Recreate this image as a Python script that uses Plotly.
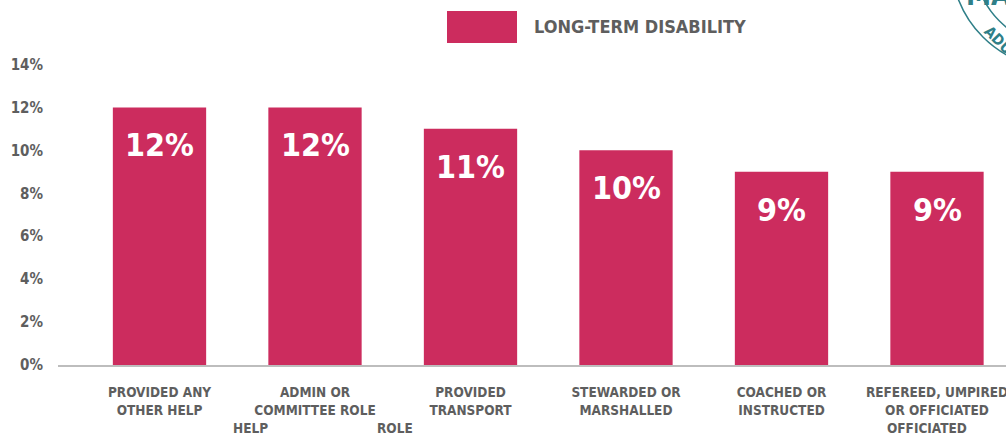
import plotly.graph_objects as go

# Share of volunteers with a long-term disability, by volunteering role
categories = [
    "PROVIDED ANY<br>OTHER HELP",
    "ADMIN OR<br>COMMITTEE ROLE",
    "PROVIDED<br>TRANSPORT",
    "STEWARDED OR<br>MARSHALLED",
    "COACHED OR<br>INSTRUCTED",
    "REFEREED, UMPIRED<br>OR OFFICIATED",
]
values = [12, 12, 11, 10, 9, 9]
series_name = "LONG-TERM DISABILITY"
y_tick_values = [0, 2, 4, 6, 8, 10, 12, 14]
y_tick_labels = [f"{v}%" for v in y_tick_values]

W, H = 1006, 435
M_L, M_R, M_T, M_B = 58, 0, 43, 70
PLOT_W = W - M_L - M_R
PLOT_H = H - M_T - M_B

BAR = "#CC2C5E"
GREY = "#5E5E5E"
TEAL = "#2F7F88"
FONT = "DejaVu Sans Condensed, Liberation Sans Narrow, sans-serif"

# category spacing in pixels and centre of the first bar
STEP = 155.5
FIRST = 159.5
x_lo = (M_L - FIRST) / STEP
x_hi = x_lo + PLOT_W / STEP


def px_x(px):
    return (px - M_L) / PLOT_W


def px_y(py):
    return (H - M_B - py) / PLOT_H


fig = go.Figure(
    go.Bar(
        x=categories,
        y=values,
        marker=dict(color=BAR, line=dict(width=0)),
        width=0.6,
        name=series_name,
        showlegend=False,
        hoverinfo="skip",
    )
)

annotations = []
for c, v in zip(categories, values):
    annotations.append(
        dict(
            x=c, y=v, xref="x", yref="y",
            text=f"<b>{v}%</b>",
            showarrow=False,
            yanchor="middle",
            yshift=-38,
            font=dict(family=FONT, size=32, color="white"),
        )
    )

# overflowing label fragments under the category axis
for word, xpos in [("HELP", 250.5), ("ROLE", 395), ("OFFICIATED", 926.5)]:
    annotations.append(
        dict(
            x=(xpos - FIRST) / STEP, y=0, xref="x", yref="paper",
            text=f"<b>{word}</b>",
            showarrow=False,
            yanchor="middle",
            yshift=-63,
            font=dict(family=FONT, size=13.5, color=GREY),
        )
    )

# legend entry
annotations.append(
    dict(
        x=px_x(532), y=px_y(27), xref="paper", yref="paper",
        text=f"<b>{series_name}</b>",
        showarrow=False,
        xanchor="left", yanchor="middle",
        font=dict(family=FONT, size=18, color=GREY),
    )
)

# badge in the top-right corner
annotations.append(
    dict(
        x=px_x(988), y=px_y(-4), xref="paper", yref="paper",
        text="<b>MA</b>",
        showarrow=False,
        xanchor="center", yanchor="middle",
        font=dict(family=FONT, size=28, color=TEAL),
    )
)
annotations.append(
    dict(
        x=px_x(998), y=px_y(40), xref="paper", yref="paper",
        text="<b>ADU</b>",
        showarrow=False,
        textangle=45,
        xanchor="center", yanchor="middle",
        font=dict(family=FONT, size=15, color=TEAL),
    )
)

shapes = [
    dict(
        type="rect", xref="paper", yref="paper",
        x0=px_x(447), x1=px_x(517), y0=px_y(43), y1=px_y(11),
        fillcolor=BAR, line=dict(width=0),
    ),
]
cx, cy = 1060, -40
for r in (86, 109):
    shapes.append(
        dict(
            type="circle", xref="paper", yref="paper",
            x0=px_x(cx - r), x1=px_x(cx + r),
            y0=px_y(cy + r), y1=px_y(cy - r),
            line=dict(color=TEAL, width=1.5),
            fillcolor="rgba(0,0,0,0)",
        )
    )

fig.update_layout(
    width=W,
    height=H,
    margin=dict(l=M_L, r=M_R, t=M_T, b=M_B, pad=0, autoexpand=False),
    paper_bgcolor="white",
    plot_bgcolor="white",
    annotations=annotations,
    shapes=shapes,
    xaxis=dict(
        range=[x_lo, x_hi],
        automargin=False,
        showline=True,
        linecolor="#BDBDBD",
        linewidth=1.5,
        showgrid=False,
        zeroline=False,
        ticks="",
        ticklabelstandoff=14,
        tickfont=dict(family=FONT, size=13.5, color=GREY, weight="bold"),
    ),
    yaxis=dict(
        range=[0, 15],
        automargin=False,
        tickvals=y_tick_values,
        ticktext=y_tick_labels,
        showgrid=False,
        zeroline=False,
        showline=False,
        ticks="",
        ticklabelstandoff=14,
        tickfont=dict(family=FONT, size=15, color=GREY, weight="bold"),
    ),
)

fig.write_html("out.html")
